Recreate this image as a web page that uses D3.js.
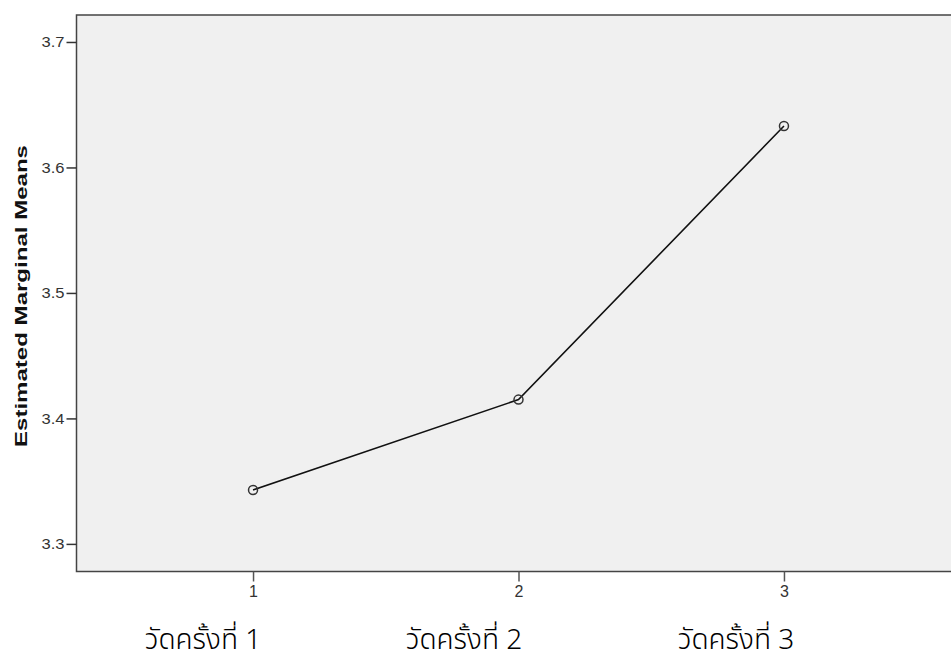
<!DOCTYPE html>
<html>
<head>
<meta charset="utf-8">
<script src="https://cdn.jsdelivr.net/npm/d3@7"></script>
<style>
  body { margin: 0; background: #fff; }
  svg { display: block; }
</style>
</head>
<body>
<div id="chart"></div>
<script>
const width = 951,
    height = 659;

// data
const levels = [1, 2, 3];
const means = [3.343, 3.415, 3.633];
const yTicks = [3.3, 3.4, 3.5, 3.6, 3.7];
const thaiLabels = ["วัดครั้งที่ 1", "วัดครั้งที่ 2", "วัดครั้งที่ 3"];

const plotLeft = 76.5,
    plotRight = 960.5,
    plotTop = 15,
    plotBottom = 571.5;

const svg = d3
    .select("#chart")
    .append("svg")
    .attr("width", width)
    .attr("height", height);

const xScale = d3.scaleLinear().domain([0.335, 3.665]).range([plotLeft, plotRight]);
const yScale = d3.scaleLinear().domain([3.278, 3.7215]).range([plotBottom, plotTop]);

// plot background
svg.append("rect")
    .attr("x", plotLeft)
    .attr("y", plotTop)
    .attr("width", plotRight - plotLeft)
    .attr("height", plotBottom - plotTop)
    .attr("fill", "#f0f0f0")
    .attr("stroke", "#444")
    .attr("stroke-width", 1.5);

// y axis
const yAxis = d3.axisLeft(yScale).tickValues(yTicks).tickFormat(d3.format(".1f")).tickSize(10).tickSizeOuter(0);
const gy = svg.append("g")
    .attr("transform", "translate(" + plotLeft + ",0)")
    .call(yAxis);
gy.select(".domain").remove();
gy.selectAll(".tick line").attr("stroke", "#333").attr("stroke-width", 1.5);
gy.selectAll(".tick text")
    .attr("x", -12)
    .attr("dy", "0.35em")
    .attr("fill", "#333")
    .style("font-family", "Liberation Sans, Arial, sans-serif")
    .style("font-size", "14px")
    .attr("textLength", 23)
    .attr("lengthAdjust", "spacingAndGlyphs");

// x axis
const xAxis = d3.axisBottom(xScale).tickValues(levels).tickFormat(d3.format("d")).tickSize(10).tickSizeOuter(0);
const gx = svg.append("g")
    .attr("transform", "translate(0," + plotBottom + ")")
    .attr("font-size", 16)
    .call(xAxis);
gx.select(".domain").remove();
gx.selectAll(".tick line").attr("stroke", "#555").attr("stroke-width", 1.5);
gx.selectAll(".tick text")
    .attr("y", 14)
    .attr("fill", "#333")
    .style("font-family", "Liberation Sans, Arial, sans-serif")
    .style("font-size", "16px");

// y axis label
svg.append("text")
    .attr("transform", "translate(27," + 296 + ") rotate(-90)")
    .attr("text-anchor", "middle")
    .style("font-family", "Liberation Sans, Arial, sans-serif")
    .style("font-size", "17px")
    .style("font-weight", "bold")
    .attr("fill", "#111")
    .attr("textLength", 302)
    .attr("lengthAdjust", "spacingAndGlyphs")
    .text("Estimated Marginal Means");

// line
const line = d3.line()
    .x((d, i) => xScale(levels[i]))
    .y((d) => yScale(d));
svg.append("path")
    .datum(means)
    .attr("d", line)
    .attr("fill", "none")
    .attr("stroke", "#111")
    .attr("stroke-width", 1.6);

// markers
svg.append("g")
    .selectAll("circle")
    .data(means)
    .enter()
    .append("circle")
    .attr("cx", (d, i) => xScale(levels[i]))
    .attr("cy", (d) => yScale(d))
    .attr("r", 4.5)
    .attr("fill", "none")
    .attr("stroke", "#333")
    .attr("stroke-width", 1.5);

// Thai labels below
const labelX = [203, 464, 736];
svg.append("g")
    .selectAll("text")
    .data(thaiLabels)
    .enter()
    .append("text")
    .attr("x", (d, i) => labelX[i])
    .attr("y", 649)
    .attr("text-anchor", "middle")
    .style("font-family", "Noto Sans Thai, Noto Sans, sans-serif")
    .style("font-size", "28px")
    .style("font-weight", "300")
    .attr("fill", "#000")
    .text((d) => d);
</script>
</body>
</html>
